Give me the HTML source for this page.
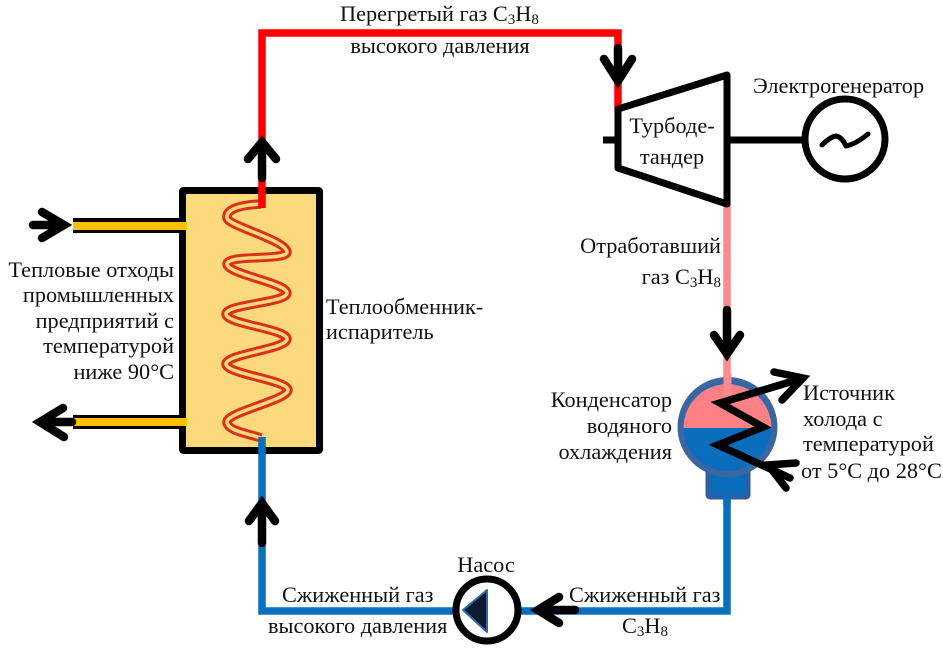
<!DOCTYPE html>
<html><head><meta charset="utf-8"><style>
html,body{margin:0;padding:0;background:#fff;width:943px;height:651px;overflow:hidden}
svg{display:block}
text{font-family:"Liberation Serif",serif;font-size:22.3px;fill:#111}
.e{text-anchor:end}.m{text-anchor:middle}
tspan.s{font-size:15px}
</style></head><body>
<svg width="943" height="651" viewBox="0 0 943 651" xmlns="http://www.w3.org/2000/svg">
<!-- exchanger -->
<rect x="73" y="218" width="108" height="15" fill="#000"/>
<rect x="73" y="222" width="114" height="8" fill="#ffc000"/>
<rect x="73" y="415" width="108" height="14" fill="#000"/>
<rect x="73" y="418" width="114" height="8" fill="#ffc000"/>
<rect x="182.5" y="190.5" width="137" height="260" rx="1" fill="#fcd97d" stroke="#000" stroke-width="7"/>
<rect x="178" y="222" width="9" height="8" fill="#ffc000"/>
<rect x="178" y="418" width="9" height="8" fill="#ffc000"/>
<!-- coil -->
<g fill="none" stroke-linecap="butt" stroke-linejoin="round">
<path d="M261 204 C240 205 226 209 227 218 C228 226 286 240 287 252 C287 261 228 254 227 264 C227 274 287 283 287 293 C287 303 226 304 226 314 C226 324 287 329 287 339 C287 349 226 354 226 364 C226 374 288 380 288 390 C288 400 227 412 227 422 C227 431 250 434 261 438" stroke="#d8321c" stroke-width="9.5"/>
<path d="M261 204 C240 205 226 209 227 218 C228 226 286 240 287 252 C287 261 228 254 227 264 C227 274 287 283 287 293 C287 303 226 304 226 314 C226 324 287 329 287 339 C287 349 226 354 226 364 C226 374 288 380 288 390 C288 400 227 412 227 422 C227 431 250 434 261 438" stroke="#fcd97d" stroke-width="3.5"/>
</g>
<!-- pipes -->
<path d="M262 208 V33 H618 V110" fill="none" stroke="#ff0000" stroke-width="7.5"/>
<path d="M727 204 V392" fill="none" stroke="#ff8a90" stroke-width="7.5"/>
<path d="M727 495 V611 H262 V437" fill="none" stroke="#0a6ebd" stroke-width="7.5"/>
<!-- condenser -->
<rect x="708" y="464" width="40" height="33" rx="2" fill="#0a6ebd" stroke="#2f5f9f" stroke-width="5"/>
<circle cx="727.5" cy="427" r="47" fill="#0a6ebd" stroke="#3b669f" stroke-width="6"/>
<path d="M683.5 428 A44 44 0 0 1 771.5 428 Z" fill="#ff8085"/>
<rect x="723.5" y="375" width="8" height="20" fill="#ff8a90"/>
<path d="M727 495 V505" stroke="#0a6ebd" stroke-width="7.5"/>
<!-- zigzag -->
<g fill="none" stroke="#000" stroke-width="7.5" stroke-linecap="round" stroke-linejoin="miter">
<path d="M800 379 L720 403 L763 427 L718 445 L790 478"/>
<path d="M774 372 L803 378 L782 400"/>
<path d="M796 463 L768 465 L786 488"/>
</g>
<!-- arrows -->
<g fill="none" stroke="#000" stroke-width="8.5" stroke-linecap="round" stroke-linejoin="miter">
<path d="M33 225 H60 M42 212 L64 225 L42 238"/>
<path d="M72 422 H40 M63 408 L40 422 L64 437"/>
<path d="M262 178 V143 M248 159 L262 142 L276 159"/>
<path d="M618 48 V80 M604 59 L618 81 L632 59"/>
<path d="M727 310 V352 M714 335 L727 354 L740 335"/>
<path d="M262 543 V505 M249 521 L262 503 L275 521"/>
<path d="M575 610 H538 M559 597 L538 610 L559 623"/>
</g>
<!-- turbine -->
<path d="M618 109 L727 75 V204 L618 168 Z" fill="#fff" stroke="#000" stroke-width="7" stroke-linejoin="round"/>
<path d="M603 140 H618" stroke="#000" stroke-width="7"/>
<path d="M727 140 H805" stroke="#000" stroke-width="7"/>
<circle cx="845" cy="139" r="40" fill="#fff" stroke="#000" stroke-width="7"/>
<path d="M822 145 Q830 137 836 136 Q842 137 846 146 Q856 144 868 134" fill="none" stroke="#000" stroke-width="5" stroke-linecap="round" stroke-linejoin="round"/>
<!-- pump -->
<circle cx="487" cy="610" r="31" fill="#fff" stroke="#000" stroke-width="7"/>
<path d="M463 610 L487 590 V632 Z" fill="#0b1a2e" stroke="#2f6aa8" stroke-width="2" stroke-linejoin="round"/>
<!-- labels -->
<text x="340" y="21">Перегретый газ С<tspan class="s" dy="3">3</tspan><tspan dy="-3">Н</tspan><tspan class="s" dy="3">8</tspan></text>
<text x="440" y="53" class="m">высокого давления</text>
<text x="753" y="93">Электрогенератор</text>
<text x="672" y="133" class="m">Турбоде-</text>
<text x="672" y="164" class="m">тандер</text>
<text x="721" y="253" class="e">Отработавший</text>
<text x="721" y="284" class="e">газ С<tspan class="s" dy="3">3</tspan><tspan dy="-3">Н</tspan><tspan class="s" dy="3">8</tspan></text>
<text x="672" y="407" class="e">Конденсатор</text>
<text x="672" y="433" class="e">водяного</text>
<text x="672" y="459" class="e">охлаждения</text>
<text x="803" y="400">Источник</text>
<text x="803" y="426">холода с</text>
<text x="803" y="451">температурой</text>
<text x="801" y="478">от 5°С до 28°С</text>
<text x="174" y="277" class="e">Тепловые отходы</text>
<text x="174" y="302" class="e">промышленных</text>
<text x="174" y="328" class="e">предприятий с</text>
<text x="174" y="353" class="e">температурой</text>
<text x="174" y="379" class="e">ниже 90°С</text>
<text x="326" y="314">Теплообменник-</text>
<text x="326" y="339">испаритель</text>
<text x="486" y="572" class="m">Насос</text>
<text x="282" y="602">Сжиженный газ</text>
<text x="268" y="633">высокого давления</text>
<text x="569" y="602">Сжиженный газ</text>
<text x="622" y="633">С<tspan class="s" dy="3">3</tspan><tspan dy="-3">Н</tspan><tspan class="s" dy="3">8</tspan></text>
</svg>
</body></html>
